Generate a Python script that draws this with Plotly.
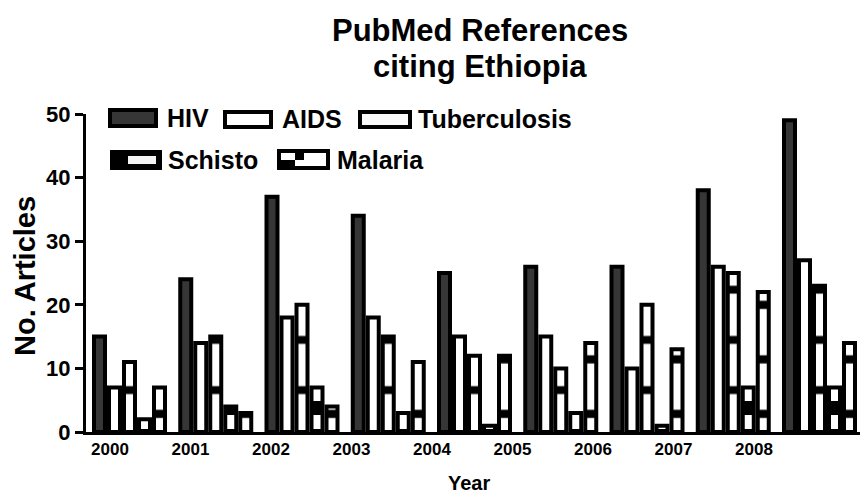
import plotly.graph_objects as go

# ---- data ----
years = ["2000", "2001", "2002", "2003", "2004", "2005", "2006", "2007", "2008"]
hiv = [15, 24, 37, 34, 25, 26, 26, 38, 49]
aids = [7, 14, 18, 18, 15, 15, 10, 26, 27]
tuberculosis = [11, 15, 20, 15, 12, 10, 20, 25, 23]
schisto = [2, 4, 7, 3, 1, 3, 1, 7, 7]
malaria = [7, 3, 4, 11, 12, 14, 13, 22, 14]
y_ticks = [0, 10, 20, 30, 40, 50]

# ---- layout geometry (pixels of the 862x495 canvas) ----
W, H = 862, 495
L, R, T, B = 86, 860, 114, 432
group_pitch = 86.25
first_group_center = 129.5
slot = 15.0
xmin = -(first_group_center - L) / group_pitch
xmax = xmin + (R - L) / group_pitch
group_x = list(range(len(years)))
# year labels in the source drift left of their groups
label_px = [110 + i * 80.5 for i in range(len(years))]
tick_x = [xmin + (p - L) / group_pitch for p in label_px]

FONT = "Liberation Sans, Arial, sans-serif"
LW = 4


def px(x):
    return (x - L) / (R - L)


def py(y):
    return (B - y) / (B - T)


def hatch(size, solidity):
    return dict(shape="-", fgcolor="black", bgcolor="white", fgopacity=1,
                size=size, solidity=solidity)


fig = go.Figure()
line = dict(color="black", width=LW)
fig.add_bar(x=group_x, y=hiv, name="HIV",
            marker=dict(color="#363636", line=line))
fig.add_bar(x=group_x, y=aids, name="AIDS",
            marker=dict(color="white", line=line))
fig.add_bar(x=group_x, y=tuberculosis, name="Tuberculosis",
            marker=dict(color="white", line=line, pattern=hatch(50.2, 0.16)))
fig.add_bar(x=group_x, y=schisto, name="Schisto",
            marker=dict(color="white", line=line, pattern=hatch(28, 0.5)))
fig.add_bar(x=group_x, y=malaria, name="Malaria",
            marker=dict(color="white", line=line, pattern=hatch(54.5, 0.15)))

# ---- custom legend (large swatches like the source) ----
shapes = []
annotations = []


def box(x0, y0, x1, y1, fill):
    shapes.append(dict(type="rect", xref="paper", yref="paper",
                       x0=px(x0), x1=px(x1), y0=py(y1), y1=py(y0),
                       fillcolor=fill, line=dict(color="black", width=4)))


def fillrect(x0, y0, x1, y1, fill):
    shapes.append(dict(type="rect", xref="paper", yref="paper",
                       x0=px(x0), x1=px(x1), y0=py(y1), y1=py(y0),
                       fillcolor=fill, line=dict(width=0)))


def text(x, y, s, size, anchor="left", angle=0):
    annotations.append(dict(xref="paper", yref="paper", x=px(x), y=py(y),
                            xanchor=anchor, yanchor="middle", showarrow=False,
                            text=s, textangle=angle,
                            font=dict(family=FONT, size=size, color="black", weight="bold")))


LEG = 25
box(110, 110, 156, 126, "#363636"); text(165, 118, "HIV", LEG)
box(225, 112, 271, 127, "white"); text(280, 119, "AIDS", LEG)
box(360, 112, 410, 127, "#fafafa"); text(416, 119, "Tuberculosis", LEG)
box(112, 152, 160, 168, "black"); fillrect(128, 156, 156, 164, "#f4f4f4")
text(166, 160, "Schisto", LEG)
box(279, 151, 328, 168, "white"); fillrect(281, 160, 295, 166, "black"); fillrect(295, 153, 304, 160, "black")
text(335, 160, "Malaria", LEG)

# title, axis titles
text(480, 30, "PubMed References", 31, anchor="center")
text(480, 66, "citing Ethiopia", 31, anchor="center")
text(25, 276, "No. Articles", 29, anchor="center", angle=-90)
text(469, 483, "Year", 20, anchor="center")

fig.update_layout(
    width=W, height=H,
    margin=dict(l=L, r=W - R, t=T, b=H - B),
    paper_bgcolor="white", plot_bgcolor="white",
    barmode="group", bargap=1 - 5 * slot / group_pitch, bargroupgap=LW / slot,
    showlegend=False,
    shapes=shapes, annotations=annotations,
    font=dict(family=FONT, color="black"),
)
fig.update_xaxes(range=[xmin, xmax], tickmode="array", tickvals=tick_x, ticktext=years,
                 showline=True, linecolor="black", linewidth=3, ticks="",
                 showgrid=False, zeroline=False,
                 tickfont=dict(family=FONT, size=17, color="black", weight="bold"))
fig.update_yaxes(range=[0, 50], tickmode="array", tickvals=y_ticks,
                 showline=True, linecolor="black", linewidth=3,
                 ticks="outside", ticklen=8, tickwidth=3, tickcolor="black",
                 showgrid=False, zeroline=False,
                 tickfont=dict(family=FONT, size=22, color="black", weight="bold"))

fig.write_html("out.html", config={"displayModeBar": False},
               post_script="document.body.style.margin='0';")
